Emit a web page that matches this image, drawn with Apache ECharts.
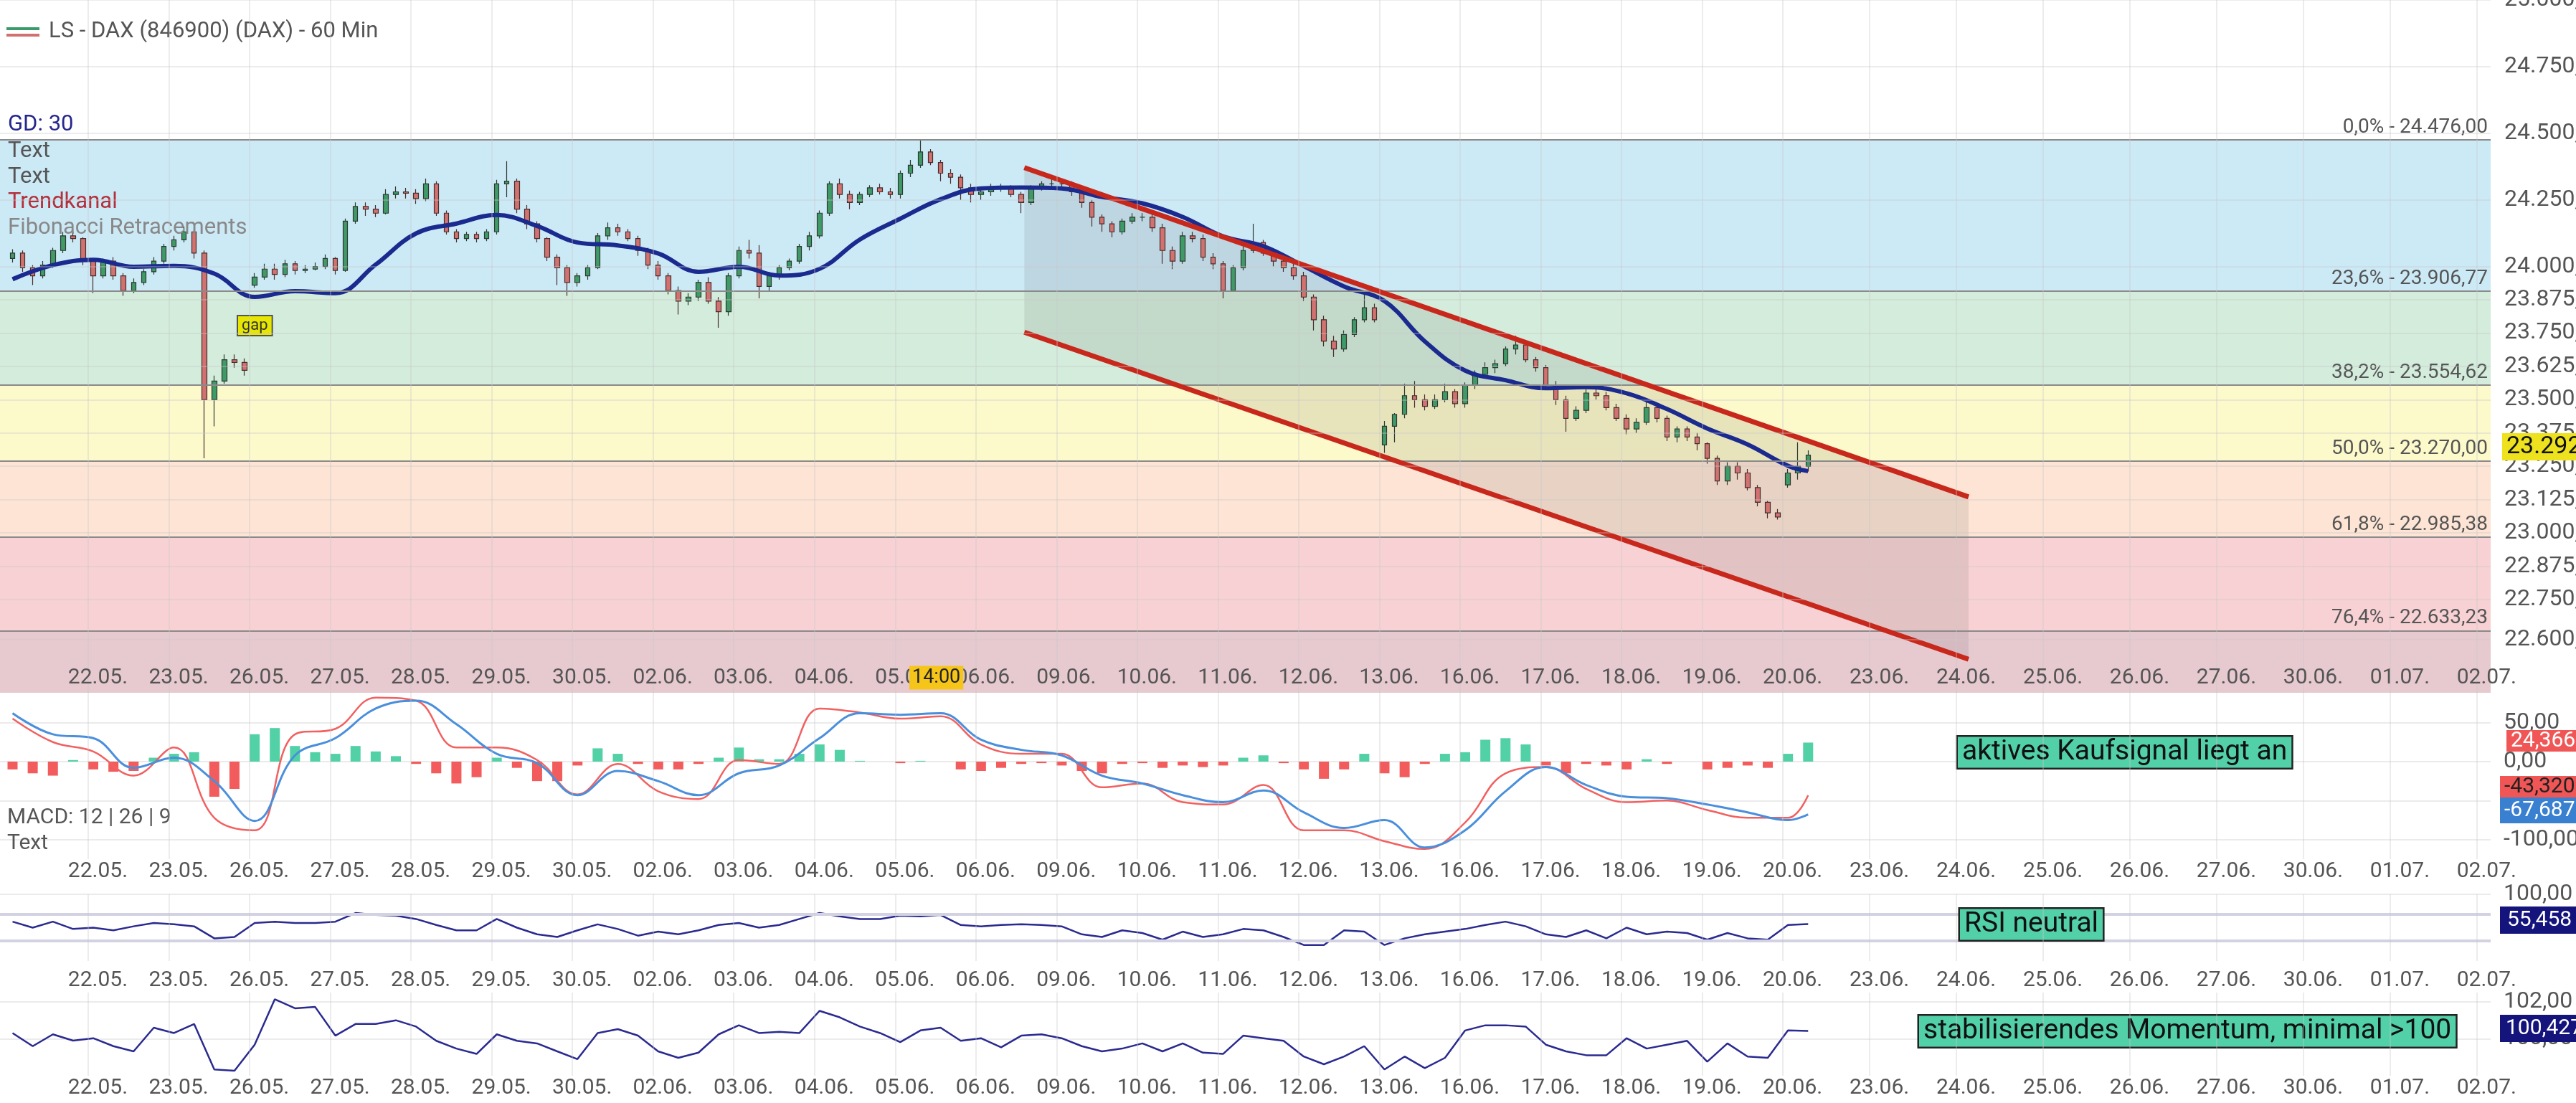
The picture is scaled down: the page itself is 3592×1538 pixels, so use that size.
<!DOCTYPE html>
<html><head><meta charset="utf-8">
<script src="https://cdn.jsdelivr.net/npm/echarts@6/dist/echarts.min.js"></script>
<style>html,body{margin:0;padding:0;background:#fff}#c{width:3592px;height:1538px}</style>
</head><body><div id="c"></div>
<script>
// ---------- DATA ----------
const dayLabels = ['22.05.','23.05.','26.05.','27.05.','28.05.','29.05.','30.05.','02.06.','03.06.','04.06.','05.06.','06.06.','09.06.','10.06.','11.06.','12.06.','13.06.','16.06.','17.06.','18.06.','19.06.','20.06.','23.06.','24.06.','25.06.','26.06.','27.06.','30.06.','01.07.','02.07.'];
const priceTicks = [22600,22750,22875,23000,23125,23250,23375,23500,23625,23750,23875,24000,24250,24500,24750,25000];
// hourly-ish candles, one row per trading day (first row = 21.05.)
const opens = [
[24030,24050,23995,23965,24005,24060,24115,24105],
[24020,23965,24020,23965,23910,23940,23980,24020],
[24075,24100,24130,24050,23500,23570,23650,23640],
[23930,23960,23990,23970,24010,23985,23990,24000],
[24030,23985,24170,24225,24215,24200,24270,24280],
[24275,24255,24310,24200,24130,24105,24120,24105],
[24130,24310,24320,24215,24160,24105,24035,23995],
[23940,23965,23995,24115,24145,24130,24105,24060],
[24005,23965,23910,23870,23885,23940,23870,23830],
[23965,24060,24050,23925,23965,23995,24020,24075],
[24115,24200,24310,24270,24240,24270,24295,24280],
[24270,24350,24380,24430,24390,24350,24335,24295],
[24270,24280,24295,24295,24270,24240,24295,24310],
[24310,24310,24280,24240,24185,24160,24130,24170],
[24185,24185,24145,24060,24020,24115,24105,24035],
[24010,23910,23995,24060,24090,24050,24020,23995],
[23965,23885,23800,23720,23690,23745,23800,23845],
[23330,23400,23445,23515,23500,23475,23500,23530],
[23485,23555,23595,23620,23635,23690,23705,23650],
[23620,23555,23500,23430,23460,23525,23515,23470],
[23430,23390,23415,23470,23430,23360,23390,23360],
[23335,23280,23195,23250,23225,23170,23115,23075],
[23180,23225,23250]];
const closes = [
[24050,23995,23965,24005,24060,24115,24105,24020],
[23965,24020,23965,23910,23940,23980,24020,24075],
[24100,24130,24050,23500,23570,23650,23640,23610],
[23960,23990,23970,24010,23985,23990,24000,24030],
[23985,24170,24225,24215,24200,24270,24280,24275],
[24255,24310,24200,24130,24105,24120,24105,24130],
[24310,24320,24215,24160,24105,24035,23995,23940],
[23965,23995,24115,24145,24130,24105,24060,24005],
[23965,23910,23870,23885,23940,23870,23830,23965],
[24060,24050,23925,23965,23995,24020,24075,24115],
[24200,24310,24270,24240,24270,24295,24280,24270],
[24350,24380,24430,24390,24350,24335,24295,24270],
[24280,24295,24295,24270,24240,24295,24310,24310],
[24310,24280,24240,24185,24160,24130,24170,24185],
[24185,24145,24060,24020,24115,24105,24035,24010],
[23910,23995,24060,24090,24050,24020,23995,23965],
[23885,23800,23720,23690,23745,23800,23845,23800],
[23400,23445,23515,23500,23475,23500,23530,23485],
[23555,23595,23620,23635,23690,23705,23650,23620],
[23555,23500,23430,23460,23525,23515,23470,23430],
[23390,23415,23470,23430,23360,23390,23360,23335],
[23280,23195,23250,23225,23170,23115,23075,23060],
[23225,23250,23292]];
const lows = [
[24015,23980,23930,23955,23995,24050,24090,24005],
[23900,23955,23950,23890,23900,23930,23970,24010],
[24060,24090,24030,23280,23400,23560,23620,23590],
[23920,23950,23950,23960,23970,23975,23985,23990],
[23970,23980,24160,24190,24185,24195,24255,24255],
[24235,24245,24190,24120,24090,24095,24090,24095],
[24120,24260,24200,24140,24090,24020,23930,23890],
[23925,23950,23990,24100,24115,24095,24040,23990],
[23950,23895,23820,23855,23870,23860,23770,23815],
[23955,24030,23880,23910,23950,23985,24010,24060],
[24105,24190,24255,24215,24230,24260,24270,24255],
[24255,24335,24370,24380,24320,24310,24250,24240],
[24250,24265,24280,24260,24200,24230,24285,24290],
[24290,24265,24220,24150,24130,24110,24120,24160],
[24170,24130,24010,23990,24010,24090,24020,23990],
[23880,23905,23985,24050,24040,24000,23980,23950],
[23870,23760,23700,23660,23680,23735,23790,23790],
[23300,23340,23430,23470,23460,23465,23490,23470],
[23470,23540,23580,23600,23625,23670,23640,23605],
[23540,23480,23380,23420,23450,23500,23460,23420],
[23370,23375,23405,23415,23345,23340,23345,23310],
[23260,23180,23180,23200,23160,23100,23055,23050],
[23170,23200,23230]];
const highs = [
[24065,24060,24005,24020,24070,24130,24135,24110],
[24030,24030,24035,23975,23955,23990,24035,24085],
[24115,24150,24140,24060,23590,23670,23670,23655],
[23975,24010,24010,24025,24020,24005,24015,24045],
[24035,24180,24240,24240,24230,24290,24300,24295],
[24290,24330,24320,24210,24140,24130,24130,24140],
[24325,24395,24330,24230,24170,24110,24045,24005],
[23975,24005,24125,24165,24160,24140,24115,24070],
[24020,23975,23925,23900,23950,23960,23885,23975],
[24075,24100,24080,23980,24005,24030,24085,24130],
[24210,24320,24330,24285,24280,24305,24310,24295],
[24360,24400,24475,24440,24400,24365,24345,24310],
[24290,24310,24310,24305,24280,24305,24320,24330],
[24330,24320,24290,24250,24195,24170,24180,24200],
[24200,24200,24160,24075,24130,24130,24120,24050],
[24020,24005,24075,24160,24100,24065,24035,24010],
[23980,23895,23815,23740,23760,23810,23900,23860],
[23420,23450,23560,23570,23520,23520,23560,23540],
[23565,23610,23640,23650,23700,23740,23715,23660],
[23630,23570,23515,23475,23540,23545,23530,23485],
[23445,23430,23490,23485,23440,23400,23400,23375],
[23340,23290,23265,23265,23240,23180,23120,23090],
[23240,23340,23310]];
// GD 30, two samples per day
const gd30 = [23952,24005,24025,23999,24002,23973,23886,23907,23900,24007,24124,24161,24193,24152,24090,24079,24049,23980,23999,23966,23991,24101,24179,24252,24293,24296,24293,24261,24237,24186,24113,24076,24001,23925,23870,23719,23609,23573,23543,23547,23524,23465,23392,23332,23252,23232];
const fibLevels = [24476.00,23906.77,23554.62,23270.00,22985.38,22633.23];
const fibPct = ['0,0%','23,6%','38,2%','50,0%','61,8%','76,4%'];
const trendUpper = [[11.60,24371],[23.30,23135]];
const trendLower = [[11.60,23753],[23.30,22526]];
// MACD (two per day), histogram (four per day)
const macdLine = [55,25,13,-18,18,-72,-88,35,42,82,78,18,18,2,-42,-3,-38,-48,2,-3,68,63,55,58,22,10,10,-33,-28,-52,-55,-30,-88,-88,-102,-112,-78,-15,-7,-35,-52,-50,-62,-72,-72,-43.32];
const signalLine = [62,35,30,-8,5,-25,-76,8,30,68,78,48,10,-2,-43,-12,-25,-43,-15,-5,30,62,60,62,28,15,8,-18,-28,-43,-52,-37,-65,-85,-75,-110,-88,-38,-7,-30,-45,-47,-55,-65,-75,-67.687];
const macdHist = [-10,-15,-18,2, -10,-13,-12,5, 10,12,-45,-35, 35,43,20,12, 10,20,13,7, -3,-15,-28,-20, 5,-8,-25,-25, -5,17,10,-3, -10,-10,-3,5, 18,3,3,10, 22,15,1,0, -2,1,0,-10, -12,-8,-3,-2, -5,-12,-15,-3, -2,-8,-5,-7, -5,5,8,-2, -10,-22,-10,10, -15,-20,-3,10, 12,28,30,22, -5,-15,-3,-5, -10,3,-3,0, -10,-8,-5,-8, 10,24.366];
const rsi = [59,50,59,48, 50,46,52,57, 55,52,34,36, 57,59,57,57, 59,72,69,68, 63,54,46,46, 63,50,40,36, 46,55,48,38, 44,40,46,54, 57,50,54,63, 72,67,63,63, 68,67,69,54, 52,54,55,54, 52,40,36,46, 42,32,44,36, 40,48,46,36, 24,24,46,44, 24,34,40,44, 48,54,59,52, 40,36,46,34, 50,40,44,42, 32,42,34,32, 54,55.458];
const momentum = [100.31,99.6,100.24,99.9, 100.03,99.6,99.32,100.6, 100.31,100.8,98.34,98.27, 99.68,102.14,101.65,101.72, 100.17,100.8,100.8,101.0, 100.66,99.89,99.47,99.18, 100.24,99.89,99.75,99.32, 98.9,100.31,100.52,100.17, 99.32,98.97,99.25,100.24, 100.73,100.31,100.38,100.31, 101.51,101.16,100.66,100.31, 99.82,100.45,100.6,99.89, 100.03,99.54,100.17,100.24, 100.03,99.6,99.32,99.47, 99.75,99.32,99.75,99.25, 99.18,100.17,100.03,99.89, 99.04,98.62,99.04,99.6, 98.34,99.04,98.41,98.97, 100.45,100.73,100.73,100.66, 99.68,99.32,99.11,99.11, 100.03,99.47,99.68,99.89, 98.76,99.75,99.04,98.97, 100.45,100.427];

// ---------- HELPERS ----------
const FUT = 1.075;
const dayPos = i => i <= 21 ? i : 21 + (i - 21) * FUT;
const tOf = (k, j) => k + (j + 0.5) / 8;   // k = -1 is 21.05.
const fmt = (v, d) => { const s = Math.abs(v).toFixed(d).split('.'); const int = s[0].replace(/\B(?=(\d{3})+(?!\d))/g, '.'); return (v < 0 ? '-' : '') + int + (d ? ',' + s[1] : ''); };
const candles = [];
closes.forEach((row, di) => row.forEach((c, j) => candles.push([tOf(di - 1, j), opens[di][j], c, lows[di][j], highs[di][j]])));
const per = (arr, n) => arr.map((v, i) => { const di = Math.floor(i / n); const k = di - 1; const last = k === 21; const j = last ? (i % n) * 2 : (i % n) * (8 / n); return [tOf(k, j), v]; });
const gdData = per(gd30, 2);
const macdData = per(macdLine, 2), sigData = per(signalLine, 2);
const histData = per(macdHist, 4).map(p => ({ value: p, itemStyle: { color: p[1] >= 0 ? '#52d1a6' : '#f25c5c' } }));
const rsiData = per(rsi, 4), momData = per(momentum, 4);

const tickVals = dayLabels.map((_, i) => dayPos(i));
const LOFF = 0.12;
const labVals = tickVals.map(v => v + LOFF);
const labFor = v => { const i = labVals.findIndex(x => Math.abs(x - v) < 0.01); return i >= 0 ? dayLabels[i] : ''; };
const XMIN = -1.093, XMAX = 29.77;
const FONT = 'Roboto';
function xAx(g, inside, margin) {
  return { type: 'value', gridIndex: g, min: XMIN, max: XMAX, z: 10, axisLine: { show: false },
    axisTick: { show: false, customValues: tickVals },
    splitLine: { show: true, lineStyle: { color: 'rgba(200,200,200,0.35)', width: 2 } },
    axisLabel: { customValues: labVals, formatter: labFor, inside: inside, margin: margin, fontSize: 30, color: '#555', fontFamily: FONT } };
}
const yLab = { fontSize: 32, color: '#555', fontFamily: FONT };

const bandColors = ['#cce9f6', '#d3ecdb', '#fcf9cb', '#fde4d4', '#f7d1d3', '#e7cad0'];
const bandEdges = fibLevels.concat([22400]);
const markAreaData = bandColors.map((c, i) => [{ yAxis: bandEdges[i], itemStyle: { color: c } }, { yAxis: bandEdges[i + 1] }]);
const markLineData = fibLevels.map((v, i) => ({ yAxis: v, label: { formatter: fibPct[i] + ' - ' + fmt(v, 2) } }));
const G = { left: 0, width: 3473, outerBoundsMode: 'none', containLabel: false };

const option = {
  animation: false, backgroundColor: '#fff',
  textStyle: { fontFamily: FONT },
  grid: [
    Object.assign({ top: 0, height: 966 }, G),
    Object.assign({ top: 964, height: 234 }, G),
    Object.assign({ top: 1247, height: 93 }, G),
    Object.assign({ top: 1384, height: 116 }, G)
  ],
  xAxis: [xAx(0, true, 6), xAx(1, false, 2), xAx(2, false, 12), xAx(3, false, 2)],
  yAxis: [
    { type: 'value', gridIndex: 0, position: 'right', min: 22400, max: 25000, z: 10, axisLine: { show: false },
      axisTick: { show: false, customValues: priceTicks }, splitLine: { lineStyle: { color: 'rgba(200,200,200,0.35)', width: 2 } },
      axisLabel: Object.assign({ customValues: priceTicks, margin: 19, formatter: v => fmt(v, 2) }, yLab) },
    { type: 'value', gridIndex: 1, position: 'right', min: -125, max: 90, axisLine: { show: false },
      axisTick: { show: false, customValues: [-100, -50, 0, 50] }, splitLine: { lineStyle: { color: '#ebebeb', width: 2 } },
      axisLabel: Object.assign({ customValues: [-100, -50, 0, 50], margin: 18, formatter: v => fmt(v, 2) }, yLab) },
    { type: 'value', gridIndex: 2, position: 'right', min: 0, max: 100, axisLine: { show: false },
      axisTick: { show: false, customValues: [100] }, splitLine: { lineStyle: { color: '#ebebeb', width: 2 } },
      axisLabel: Object.assign({ customValues: [100], margin: 18, formatter: v => fmt(v, 2) }, yLab) },
    { type: 'value', gridIndex: 3, position: 'right', min: 98, max: 102.5, axisLine: { show: false },
      axisTick: { show: false, customValues: [100, 102] }, splitLine: { lineStyle: { color: '#ebebeb', width: 2 } },
      axisLabel: Object.assign({ customValues: [100, 102], margin: 18, formatter: v => fmt(v, 2) }, yLab) }
  ],
  series: [
    { type: 'line', xAxisIndex: 0, yAxisIndex: 0, data: [[XMIN, 24000]], symbol: 'none', lineStyle: { opacity: 0 }, z: 0, silent: true,
      markArea: { silent: true, data: markAreaData },
      markLine: { silent: true, symbol: 'none', lineStyle: { color: '#8a8a8a', width: 2, type: 'solid' },
        label: { position: 'insideEndTop', fontSize: 28, color: '#555', fontFamily: FONT, distance: [4, 3] }, data: markLineData } },
    { type: 'custom', xAxisIndex: 0, yAxisIndex: 0, z: 1, silent: true, data: [trendUpper[0]],
      renderItem: (p, api) => {
        const pts = [api.coord(trendUpper[0]), api.coord(trendUpper[1]), api.coord(trendLower[1]), api.coord(trendLower[0])];
        return { type: 'polygon', shape: { points: pts }, style: { fill: 'rgba(90,90,90,0.13)' } };
      } },
    { type: 'candlestick', xAxisIndex: 0, yAxisIndex: 0, z: 3, data: candles, encode: { x: 0, y: [1, 2, 3, 4] }, barWidth: 7,
      itemStyle: { color: '#3f9a68', color0: '#d0726f', borderColor: '#2e3a30', borderColor0: '#4a2d2d', borderWidth: 1.2 } },
    { type: 'line', xAxisIndex: 0, yAxisIndex: 0, z: 4, data: gdData, smooth: 0.4, symbol: 'none', lineStyle: { color: '#1b2a8e', width: 6 } },
    { type: 'line', xAxisIndex: 0, yAxisIndex: 0, z: 5, data: trendUpper, symbol: 'none', lineStyle: { color: '#c8281c', width: 7 } },
    { type: 'line', xAxisIndex: 0, yAxisIndex: 0, z: 5, data: trendLower, symbol: 'none', lineStyle: { color: '#c8281c', width: 7 } },
    { type: 'bar', xAxisIndex: 1, yAxisIndex: 1, data: histData, barWidth: 14, z: 2 },
    { type: 'line', xAxisIndex: 1, yAxisIndex: 1, data: macdData, smooth: 0.4, symbol: 'none', lineStyle: { color: '#f26060', width: 2.5 }, z: 3 },
    { type: 'line', xAxisIndex: 1, yAxisIndex: 1, data: sigData, smooth: 0.4, symbol: 'none', lineStyle: { color: '#4a8fdc', width: 3 }, z: 4 },
    { type: 'line', xAxisIndex: 2, yAxisIndex: 2, data: rsiData, symbol: 'none', lineStyle: { color: '#2a2a90', width: 2.5 },
      markLine: { silent: true, symbol: 'none', label: { show: false }, lineStyle: { color: '#d2d2e2', width: 4, type: 'solid' }, data: [{ yAxis: 70 }, { yAxis: 30 }] } },
    { type: 'line', xAxisIndex: 3, yAxisIndex: 3, data: momData, symbol: 'none', lineStyle: { color: '#2a2a90', width: 2.5 } }
  ],
  graphic: [
    { type: 'rect', shape: { x: 9, y: 38, width: 46, height: 4 }, style: { fill: '#3a9a6a' } },
    { type: 'rect', shape: { x: 9, y: 47, width: 46, height: 4 }, style: { fill: '#d07070' } },
    { type: 'text', x: 68, y: 44, style: { text: 'LS - DAX (846900) (DAX) - 60 Min', fontSize: 31, fill: '#555', verticalAlign: 'middle', fontFamily: FONT } },
    { type: 'text', x: 11, y: 174, style: { text: 'GD: 30', fontSize: 31, fill: '#26278c', verticalAlign: 'middle', fontFamily: FONT } },
    { type: 'text', x: 11, y: 211, z: 10, style: { text: 'Text', fontSize: 31, fill: '#555', verticalAlign: 'middle', fontFamily: FONT } },
    { type: 'text', x: 11, y: 247, z: 10, style: { text: 'Text', fontSize: 31, fill: '#555', verticalAlign: 'middle', fontFamily: FONT } },
    { type: 'text', x: 11, y: 282, z: 10, style: { text: 'Trendkanal', fontSize: 31, fill: '#b3303c', verticalAlign: 'middle', fontFamily: FONT } },
    { type: 'text', x: 11, y: 318, z: 10, style: { text: 'Fibonacci Retracements', fontSize: 31, fill: '#888', verticalAlign: 'middle', fontFamily: FONT } },
    { type: 'text', x: 332, y: 441, z: 10, style: { text: 'gap', fontSize: 22, fill: '#333', backgroundColor: '#e6e600', borderColor: '#555', borderWidth: 2, padding: [2, 5], fontFamily: FONT } },
    { type: 'text', x: 1268, y: 945, z: 100, style: { text: '14:00', fontSize: 27, fill: '#222', backgroundColor: '#f6c519', padding: [3, 4], verticalAlign: 'middle', fontFamily: FONT } },
    { type: 'text', x: 3489, y: 623, z: 100, style: { text: '23.292,00', fontSize: 34, fill: '#111', backgroundColor: '#eee21e', padding: [2, 6], verticalAlign: 'middle', fontFamily: FONT } },
    { type: 'text', x: 10, y: 1140, z: 10, style: { text: 'MACD: 12 | 26 | 9', fontSize: 30, fill: '#555', verticalAlign: 'middle', fontFamily: FONT } },
    { type: 'text', x: 10, y: 1176, z: 10, style: { text: 'Text', fontSize: 30, fill: '#555', verticalAlign: 'middle', fontFamily: FONT } },
    { type: 'text', x: 3495, y: 1033, z: 10, style: { text: '24,36620', fontSize: 30, fill: '#fff', backgroundColor: '#f05656', padding: [0, 6], verticalAlign: 'middle', fontFamily: FONT } },
    { type: 'text', x: 3486, y: 1097, z: 10, style: { text: '-43,32000', fontSize: 30, fill: '#222', backgroundColor: '#f05656', padding: [0, 6], verticalAlign: 'middle', fontFamily: FONT } },
    { type: 'text', x: 3486, y: 1130, z: 10, style: { text: '-67,68700', fontSize: 30, fill: '#fff', backgroundColor: '#3a80d0', padding: [3, 6], verticalAlign: 'middle', fontFamily: FONT } },
    { type: 'text', x: 3486, y: 1283, z: 10, style: { text: '55,458', fontSize: 30, fill: '#fff', backgroundColor: '#14147c', padding: [4, 10], verticalAlign: 'middle', fontFamily: FONT } },
    { type: 'text', x: 3486, y: 1434, z: 10, style: { text: '100,4270', fontSize: 30, fill: '#fff', backgroundColor: '#14147c', padding: [4, 8], verticalAlign: 'middle', fontFamily: FONT } },
    { type: 'text', x: 2730, y: 1049, z: 10, style: { text: 'aktives Kaufsignal liegt an', fontSize: 39, fill: '#111', backgroundColor: '#52d0a8', borderColor: '#222', borderWidth: 2.5, padding: [2, 6], verticalAlign: 'middle', fontFamily: FONT } },
    { type: 'text', x: 2733, y: 1289, z: 10, style: { text: 'RSI neutral', fontSize: 39, fill: '#111', backgroundColor: '#52d0a8', borderColor: '#222', borderWidth: 2.5, padding: [2, 6], verticalAlign: 'middle', fontFamily: FONT } },
    { type: 'text', x: 2676, y: 1438, z: 10, style: { text: 'stabilisierendes Momentum, minimal >100', fontSize: 39, fill: '#111', backgroundColor: '#52d0a8', borderColor: '#222', borderWidth: 2.5, padding: [2, 6], verticalAlign: 'middle', fontFamily: FONT } }
  ]
};
const chart = echarts.init(document.getElementById('c'), null, { renderer: 'canvas' });
chart.setOption(option);
</script></body></html>
